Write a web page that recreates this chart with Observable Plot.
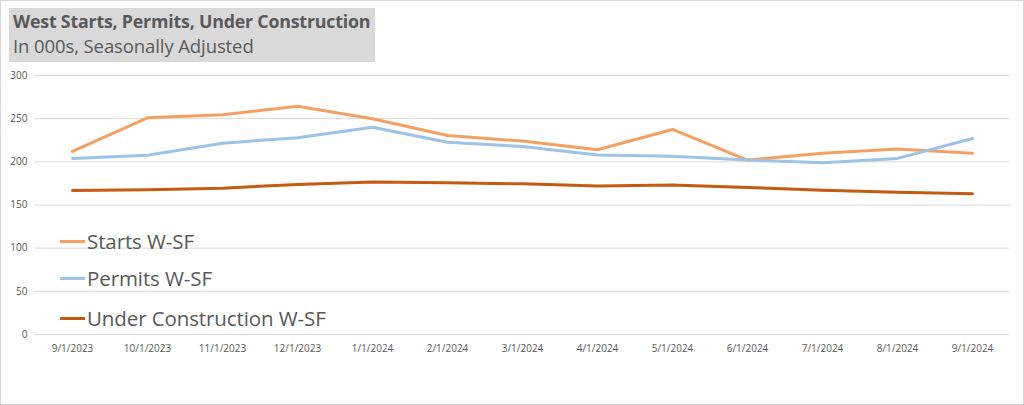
<!DOCTYPE html>
<html>
<head>
<meta charset="utf-8">
<script src="https://cdn.jsdelivr.net/npm/d3@7"></script>
<script src="https://cdn.jsdelivr.net/npm/@observablehq/plot@0.6"></script>
<style>
  html, body { margin: 0; padding: 0; background: #fff; }
  #wrap { position: relative; width: 1022px; height: 403px; border: 1px solid #d9d9d9; overflow: hidden; font-family: "Open Sans", "Noto Sans", sans-serif; }
  #header { height: 64px; position: relative; }
  #tbox { position: absolute; left: 8px; top: 7px; width: 366px; height: 54px; background: #d9d9d9; }
  #title { position: absolute; left: 4px; top: 1px; font-size: 17.8px; font-weight: bold; color: #595959; white-space: nowrap; letter-spacing: -0.2px; }
  #subtitle { position: absolute; left: 4px; top: 25px; font-size: 18.5px; color: #595959; white-space: nowrap; letter-spacing: -0.1px; }
  #legend { position: absolute; left: 59px; top: 0; }
  .li { position: absolute; left: 0; white-space: nowrap; font-size: 20.5px; color: #595959; display: flex; align-items: center; letter-spacing: -0.1px; }
  .sw { display: inline-block; width: 25px; height: 3px; margin-right: 2px; }
</style>
</head>
<body>
<div id="wrap">
  <div id="header"><div id="tbox"><div id="title">West Starts, Permits, Under Construction</div><div id="subtitle">In 000s, Seasonally Adjusted</div></div></div>
  <div id="chart"></div>
  <div id="legend"></div>
</div>
<script>
const months = ["9/1/2023","10/1/2023","11/1/2023","12/1/2023","1/1/2024","2/1/2024","3/1/2024","4/1/2024","5/1/2024","6/1/2024","7/1/2024","8/1/2024","9/1/2024"];
const starts = [212, 251, 254.5, 264.5, 250, 230.5, 224, 214, 237.5, 202, 210, 215, 210];
const permits = [204, 207.7, 221.6, 228, 240, 222.7, 217.8, 208, 206.5, 202, 199, 204, 227];
const underConstruction = [166.8, 167.6, 169.5, 173.8, 176.5, 175.7, 174.5, 172, 173.3, 170.3, 167.2, 164.9, 163];
const seriesNames = ["Starts W-SF", "Permits W-SF", "Under Construction W-SF"];
const seriesColors = ["#f4a062", "#9dc3e6", "#c55a11"];
const yTicks = [0, 50, 100, 150, 200, 250, 300];

const seriesValues = [starts, permits, underConstruction];
const data = [];
seriesNames.forEach((s, i) => months.forEach((m, j) => data.push({series: s, month: m, value: seriesValues[i][j]})));

const chart = Plot.plot({
  width: 1022,
  height: 338,
  marginTop: 10,
  marginBottom: 69,
  marginLeft: 33,
  marginRight: 14,
  style: {fontFamily: "'Open Sans', 'Noto Sans', sans-serif", fontSize: "10px", color: "#595959", background: "transparent"},
  x: {type: "point", domain: months, padding: 0.5, label: null},
  y: {domain: [0, 300], label: null},
  color: {domain: seriesNames, range: seriesColors},
  marks: [
    Plot.gridY(yTicks, {stroke: "#d9d9d9", strokeOpacity: 1, strokeWidth: 1}),
    Plot.line(data, {x: "month", y: "value", z: "series", stroke: "series", strokeWidth: 3, curve: "linear", strokeLinejoin: "round"}),
    Plot.axisX({tickSize: 0, tickPadding: 10, fill: "#595959"}),
    Plot.axisY({ticks: yTicks, tickSize: 0, tickPadding: 7, fill: "#595959"})
  ]
});
document.getElementById("chart").appendChild(chart);

const legendTops = [226, 263, 303];
const leg = document.getElementById("legend");
seriesNames.forEach((s, i) => {
  const d = document.createElement("div");
  d.className = "li";
  d.style.top = legendTops[i] + "px";
  d.innerHTML = `<span class="sw" style="background:${seriesColors[i]}"></span><span>${s}</span>`;
  leg.appendChild(d);
});
</script>
</body>
</html>
